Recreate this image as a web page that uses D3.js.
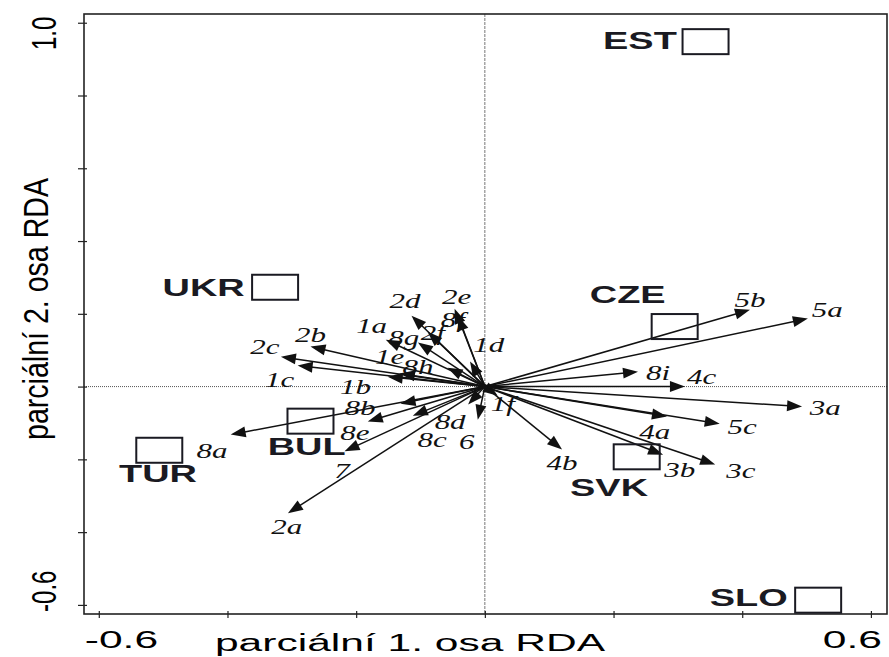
<!DOCTYPE html>
<html><head><meta charset="utf-8">
<script src="https://cdn.jsdelivr.net/npm/d3@7"></script>
<style>body{margin:0;background:#fff}svg{display:block}</style>
</head><body>
<svg id="chart" width="889" height="657"></svg>
<script>
// ---- data ----
const varNames = ["1a","1b","1c","1d","1e","1f","2a","2b","2c","2d","2e","2f","3a","3b","3c","4a","4b","4c","5a","5b","5c","6","7","8a","8b","8c","8d","8e","8f","8g","8h","8i"];
const varX = [-0.154,-0.151,-0.291,-0.023,-0.132,0.020,-0.306,-0.271,-0.317,-0.114,-0.047,-0.089,0.493,0.277,0.358,0.283,0.120,0.311,0.502,0.412,0.365,-0.011,-0.218,-0.395,-0.131,-0.112,-0.026,-0.182,-0.042,-0.104,-0.058,0.238];
const varY = [0.129,0.027,0.058,0.069,0.036,-0.025,-0.348,0.110,0.082,0.195,0.214,0.151,-0.055,-0.187,-0.214,-0.082,-0.173,0.000,0.187,0.211,-0.102,-0.091,-0.178,-0.132,-0.047,-0.080,-0.049,-0.096,0.195,0.121,0.052,0.041];
const varLabelX = [-0.176,-0.201,-0.319,0.006,-0.148,0.028,-0.308,-0.271,-0.342,-0.124,-0.044,-0.081,0.529,0.303,0.398,0.264,0.120,0.337,0.532,0.412,0.400,-0.028,-0.222,-0.424,-0.194,-0.082,-0.054,-0.202,-0.050,-0.126,-0.104,0.269];
const varLabelY = [0.167,-0.001,0.019,0.113,0.082,-0.049,-0.387,0.143,0.110,0.236,0.247,0.146,-0.060,-0.228,-0.231,-0.124,-0.211,0.027,0.211,0.239,-0.110,-0.151,-0.232,-0.176,-0.059,-0.148,-0.096,-0.128,0.184,0.134,0.055,0.038];

const siteNames = ["EST","UKR","CZE","BUL","TUR","SVK","SLO"];
const siteX = [0.343,-0.326,0.295,-0.271,-0.506,0.236,0.518];
const siteY = [0.948,0.273,0.165,-0.095,-0.175,-0.193,-0.587];
const siteLabelX = [0.241,-0.437,0.222,-0.277,-0.508,0.193,0.410];
const siteLabelY = [0.929,0.250,0.230,-0.187,-0.263,-0.302,-0.603];

const xTicks = [-0.6,-0.4,-0.2,0,0.2,0.4,0.6];
const yTicks = [-0.6,-0.4,-0.2,0,0.2,0.4,0.6,0.8,1.0];
const xTickLabels = ["-0.6","0.6"];
const yTickLabels = ["-0.6","1.0"];
const xTitle = "parciální 1. osa RDA";
const yTitle = "parciální 2. osa RDA";
const xDomain = [-0.623, 0.625];
const yDomain = [-0.625, 1.024];

// ---- layout ----
const L = 84, R = 887, T = 14, B = 614;
const svg = d3.select("#chart");
const x = d3.scaleLinear().domain(xDomain).range([L, R]);
const y = d3.scaleLinear().domain(yDomain).range([B, T]);

// zero lines
svg.append("line").attr("x1", L).attr("x2", R).attr("y1", y(0)).attr("y2", y(0))
  .attr("stroke", "#555").attr("stroke-width", 1).attr("stroke-dasharray", "1,1");
svg.append("line").attr("x1", x(0)).attr("x2", x(0)).attr("y1", T).attr("y2", B)
  .attr("stroke", "#777").attr("stroke-width", 1).attr("stroke-dasharray", "3,1");

// axes (tick marks)
const gx = svg.append("g").attr("transform", `translate(0,${B})`)
  .call(d3.axisBottom(x).tickValues(xTicks).tickFormat("").tickSize(4).tickSizeOuter(0));
gx.select(".domain").remove();
gx.selectAll(".tick line").attr("y1", -3).attr("stroke", "#222").attr("stroke-width", 1.2);
const gy = svg.append("g").attr("transform", `translate(${L},0)`)
  .call(d3.axisLeft(y).tickValues(yTicks).tickFormat("").tickSize(6).tickSizeOuter(0));
gy.select(".domain").remove();
gy.selectAll(".tick line").attr("x1", 3).attr("stroke", "#222").attr("stroke-width", 1.2);

// frame
svg.append("rect").attr("x", L).attr("y", T).attr("width", R - L).attr("height", B - T)
  .attr("fill", "none").attr("stroke", "#222").attr("stroke-width", 1.6);

// tick labels
const sans = "'Liberation Sans', Arial, Helvetica, sans-serif";
svg.append("text").text(xTickLabels[0])
  .attr("transform", `translate(${x(-0.6) - 14},648) scale(1.85,1)`)
  .attr("text-anchor", "start").attr("font-family", sans).attr("font-size", 23).attr("fill", "#000");
svg.append("text").text(xTickLabels[1])
  .attr("transform", `translate(${x(0.6) + 11},648) scale(1.85,1)`)
  .attr("text-anchor", "end").attr("font-family", sans).attr("font-size", 23).attr("fill", "#000");
svg.append("text").text(yTickLabels[0])
  .attr("transform", `translate(56,${y(-0.6) + 7}) scale(1.5,1) rotate(-90)`)
  .attr("text-anchor", "start").attr("font-family", sans).attr("font-size", 24).attr("fill", "#000");
svg.append("text").text(yTickLabels[1])
  .attr("transform", `translate(56,${y(1.0) - 6}) scale(1.5,1) rotate(-90)`)
  .attr("text-anchor", "end").attr("font-family", sans).attr("font-size", 24).attr("fill", "#000");

// axis titles
svg.append("text").text(xTitle)
  .attr("transform", `translate(410,651) scale(1.85,1)`)
  .attr("text-anchor", "middle").attr("font-family", sans).attr("font-size", 23).attr("fill", "#000");
svg.append("text").text(yTitle)
  .attr("transform", `translate(48,309) scale(1.2,1) rotate(-90)`)
  .attr("text-anchor", "middle").attr("font-family", sans).attr("font-size", 29)
  .attr("textLength", 262).attr("lengthAdjust", "spacingAndGlyphs").attr("fill", "#000");

// arrows
const vars = varNames.map((n, i) => ({n, vx: varX[i], vy: varY[i], lx: varLabelX[i], ly: varLabelY[i]}));
const ga = svg.append("g");
const HL = 15, HW = 5.5;
vars.forEach(d => {
  const x0 = x(0), y0 = y(0), x1 = x(d.vx), y1 = y(d.vy);
  const dx = x1 - x0, dy = y1 - y0, len = Math.hypot(dx, dy);
  const ux = dx / len, uy = dy / len;
  const bx = x1 - ux * HL, by = y1 - uy * HL;
  ga.append("line").attr("x1", x0).attr("y1", y0).attr("x2", bx + ux * 2).attr("y2", by + uy * 2)
    .attr("stroke", "#111").attr("stroke-width", 1.5);
  ga.append("path")
    .attr("d", `M${x1},${y1}L${bx - uy * HW},${by + ux * HW}L${bx + uy * HW},${by - ux * HW}Z`)
    .attr("fill", "#111");
});
ga.append("circle").attr("cx", x(0)).attr("cy", y(0)).attr("r", 2.5).attr("fill", "#111");
const serif = "'Liberation Serif', 'Times New Roman', serif";
ga.selectAll("text.vl").data(vars).join("text").attr("class", "vl")
  .attr("transform", d => `translate(${x(d.lx)},${y(d.ly)}) scale(1.55,1)`)
  .attr("dy", "0.35em").attr("text-anchor", "middle")
  .attr("font-family", serif).attr("font-style", "italic").attr("font-size", 20).attr("fill", "#111")
  .text(d => d.n);

// sites
const sites = siteNames.map((n, i) => ({n, sx: siteX[i], sy: siteY[i], lx: siteLabelX[i], ly: siteLabelY[i]}));
const BW = 46, BH = 25;
svg.selectAll("rect.site").data(sites).join("rect").attr("class", "site")
  .attr("x", d => x(d.sx) - BW / 2).attr("y", d => y(d.sy) - BH / 2)
  .attr("width", BW).attr("height", BH)
  .attr("fill", "none").attr("stroke", "#1a1a22").attr("stroke-width", 2);
svg.selectAll("text.sl").data(sites).join("text").attr("class", "sl")
  .attr("transform", d => `translate(${x(d.lx)},${y(d.ly)}) scale(1.65,1)`)
  .attr("text-anchor", "middle").attr("font-family", sans).attr("font-weight", "bold")
  .attr("font-size", 23).attr("fill", "#1a1a22")
  .text(d => d.n);
</script>
</body></html>
